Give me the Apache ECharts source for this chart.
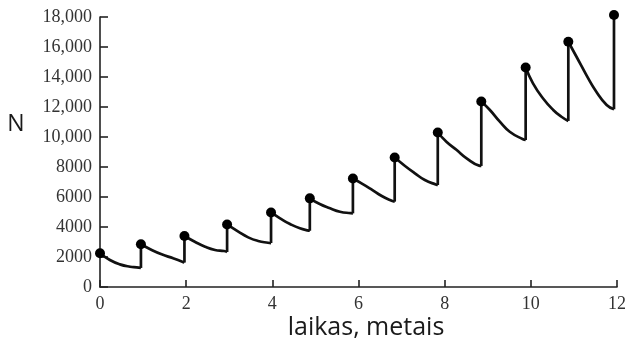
<!DOCTYPE html>
<html>
<head>
<meta charset="utf-8">
<script src="https://cdn.jsdelivr.net/npm/echarts@6/dist/echarts.min.js"></script>
<style>
html,body{margin:0;padding:0;background:#fff;}
#chart{width:631px;height:345px;}
</style>
</head>
<body>
<div id="chart"></div>
<script>
// Birth-pulse peaks (dots)
const birthT = [0, 0.95, 1.96, 2.95, 3.97, 4.87, 5.87, 6.84, 7.84, 8.85, 9.88, 10.87, 11.93];
const birthN = [2250, 2850, 3400, 4170, 4970, 5910, 7230, 8630, 10300, 12370, 14630, 16350, 18130];
// Lowest value just before each following pulse
const lowN = [1270, 1630, 2330, 2930, 3750, 4910, 5690, 6800, 8070, 9800, 11070, 11850];
// Points read along each decline
const declineT = [
  [0.23, 0.46, 0.70, 0.85],
  [1.20, 1.43, 1.70, 1.91],
  [2.20, 2.44, 2.67, 2.88],
  [3.21, 3.44, 3.67, 3.90],
  [4.18, 4.41, 4.64, 4.85],
  [5.10, 5.34, 5.57, 5.82],
  [6.07, 6.30, 6.54, 6.77],
  [7.08, 7.31, 7.54, 7.81],
  [8.04, 8.28, 8.51, 8.80],
  [9.05, 9.28, 9.51, 9.82],
  [10.05, 10.28, 10.52, 10.71],
  [11.06, 11.29, 11.52, 11.76]
];
const declineN = [
  [1800, 1510, 1350, 1310],
  [2470, 2180, 1910, 1690],
  [3020, 2690, 2470, 2400],
  [3690, 3310, 3070, 2950],
  [4580, 4200, 3910, 3760],
  [5530, 5250, 5020, 4920],
  [6910, 6510, 6070, 5750],
  [8070, 7580, 7130, 6820],
  [9690, 9130, 8580, 8090],
  [11800, 11020, 10350, 9850],
  [13580, 12580, 11800, 11350],
  [15350, 14130, 13020, 12130]
];
const xTickLabels = ['0', '2', '4', '6', '8', '10', '12'];
const yTickLabels = ['0', '2000', '4000', '6000', '8000', '10,000', '12,000', '14,000', '16,000', '18,000'];
const xTitle = 'laikas, metais';
const yTitle = 'N';

const series = [];
const lineStyle = { color: '#111', width: 2.7 };
for (let k = 0; k < lowN.length; k++) {
  const pts = [[birthT[k], birthN[k]]];
  for (let j = 0; j < declineT[k].length; j++) pts.push([declineT[k][j], declineN[k][j]]);
  pts.push([birthT[k + 1], lowN[k]]);
  series.push({
    type: 'line', data: pts, smooth: 0.5, symbol: 'none', clip: false,
    lineStyle: lineStyle, silent: true, z: 2
  });
  series.push({
    type: 'line', data: [[birthT[k + 1], lowN[k]], [birthT[k + 1], birthN[k + 1]]],
    smooth: false, symbol: 'none', clip: false, lineStyle: lineStyle, silent: true, z: 2
  });
}
series.push({
  type: 'scatter',
  data: birthT.map((t, i) => [t, birthN[i]]),
  symbol: 'circle', symbolSize: 10, clip: false,
  itemStyle: { color: '#000', opacity: 1 }, z: 5
});

const serif = 'Liberation Serif';
const chart = echarts.init(document.getElementById('chart'), null, { renderer: 'canvas' });
chart.setOption({
  animation: false,
  backgroundColor: '#fff',
  grid: { left: 100, right: 14, top: 17, bottom: 58, containLabel: false },
  xAxis: {
    type: 'value', min: 0, max: 12, interval: 2,
    axisLine: { show: true, lineStyle: { color: '#222', width: 1.6 } },
    axisTick: { show: true, inside: true, length: 7, lineStyle: { color: '#222', width: 1.6 } },
    axisLabel: {
      margin: 8, fontFamily: serif, fontSize: 18, color: '#333',
      formatter: (v) => xTickLabels[Math.round(v / 2)]
    },
    splitLine: { show: false }
  },
  yAxis: {
    type: 'value', min: 0, max: 18000, interval: 2000,
    axisLine: { show: true, lineStyle: { color: '#222', width: 1.6 } },
    axisTick: { show: true, inside: true, length: 8, lineStyle: { color: '#222', width: 1.6 } },
    axisLabel: {
      margin: 8, fontFamily: serif, fontSize: 18, color: '#333',
      formatter: (v) => yTickLabels[Math.round(v / 2000)]
    },
    splitLine: { show: false }
  },
  graphic: [
    {
      type: 'text', x: 366, y: 328,
      style: { text: xTitle, font: '25px "Open Sans"', fill: '#1a1a1a', textAlign: 'center', textVerticalAlign: 'middle' }
    },
    {
      type: 'text', x: 16, y: 124,
      style: { text: yTitle, font: '23px "Open Sans"', fill: '#1a1a1a', textAlign: 'center', textVerticalAlign: 'middle' }
    }
  ],
  series: series
});
</script>
</body>
</html>
